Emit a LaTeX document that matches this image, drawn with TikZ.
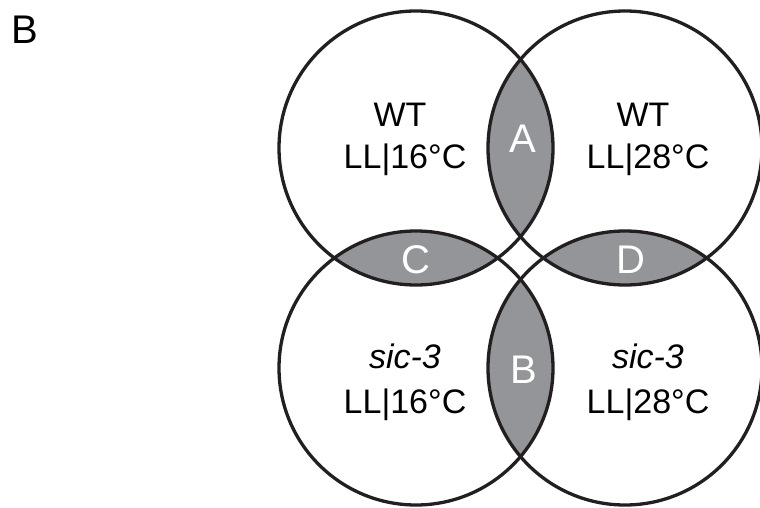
\documentclass[tikz,border=0pt]{standalone}
\usepackage{fontspec}
\setmainfont{Liberation Sans}
\definecolor{lensgray}{RGB}{147,149,152}
\definecolor{ringblack}{RGB}{35,31,32}
\begin{document}
\begin{tikzpicture}[x=1pt,y=-1pt,
  ring/.style={draw=ringblack,line width=3.3pt},
  lbl/.style={anchor=base,inner sep=0pt,font=\fontsize{34}{40}\selectfont,text=black},
  lens/.style={anchor=center,inner sep=0pt,font=\fontsize{40}{46}\selectfont,text=white},
  panel/.style={anchor=center,inner sep=0pt,font=\fontsize{40}{46}\selectfont}]
\useasboundingbox[fill=white] (0,0) rectangle (760,508);
\coordinate (tl) at (416,148);
\coordinate (tr) at (625,148);
\coordinate (bl) at (416,368);
\coordinate (br) at (625,368);
\def\rr{137pt}
% lenses
\begin{scope}\clip (tl) circle (\rr); \fill[lensgray] (tr) circle (\rr);\end{scope}
\begin{scope}\clip (bl) circle (\rr); \fill[lensgray] (br) circle (\rr);\end{scope}
\begin{scope}\clip (tl) circle (\rr); \fill[lensgray] (bl) circle (\rr);\end{scope}
\begin{scope}\clip (tr) circle (\rr); \fill[lensgray] (br) circle (\rr);\end{scope}
% circles
\draw[ring] (tl) circle (\rr);
\draw[ring] (tr) circle (\rr);
\draw[ring] (bl) circle (\rr);
\draw[ring] (br) circle (\rr);
% labels
\node[lbl] (wt1) at (400,127) {WT};
\node[lbl] (ll1) at (405,168) {LL|16°C};
\node[lbl] (wt2) at (643,127) {WT};
\node[lbl] (ll2) at (648,168) {LL|28°C};
\node[lbl] (sic1) at (405,368) {\itshape sic-3};
\node[lbl] (ll3) at (405,413) {LL|16°C};
\node[lbl] (sic2) at (648,368) {\itshape sic-3};
\node[lbl] (ll4) at (648,413) {LL|28°C};
% lens letters
\node[lens] (la) at (523,139) {A};
\node[lens] (lb) at (524,370) {B};
\node[lens] (lc) at (416,260) {C};
\node[lens] (ld) at (631,260) {D};
% panel letter
\node[panel] (pb) at (25,30) {B};
\end{tikzpicture}
\end{document}
